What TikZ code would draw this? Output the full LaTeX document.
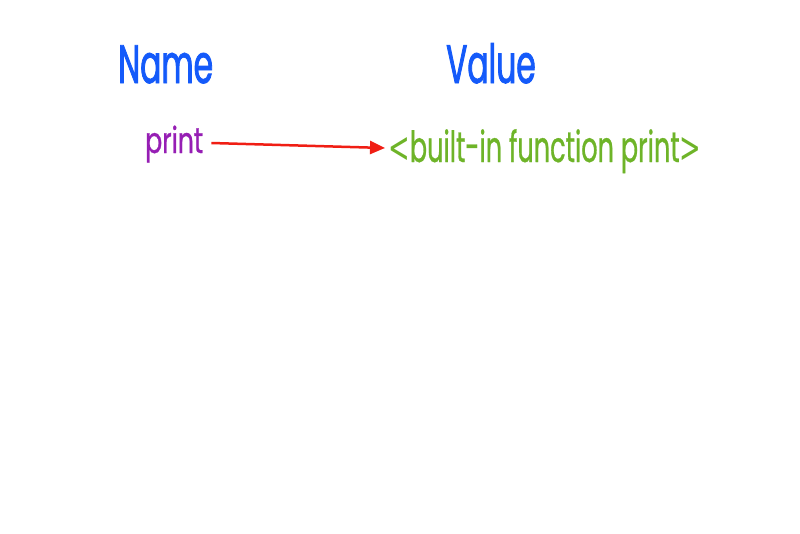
\documentclass[tikz,border=0pt]{standalone}
\usepackage{fontspec}
\usetikzlibrary{arrows.meta}
\newfontfamily\headfont[FakeStretch=0.58,FakeBold=1.5]{Poppins}
\newfontfamily\namefont[FakeStretch=0.7,FakeBold=0.8]{Poppins}
\newfontfamily\valfont[FakeStretch=0.595,FakeBold=0.6]{Poppins}
\newfontfamily\anglefont[FakeStretch=0.6]{DejaVu Sans}
\newcommand{\opang}{{\anglefont<}}
\newcommand{\clang}{{\anglefont>}}
\definecolor{hblue}{RGB}{20,90,250}
\definecolor{hpurple}{RGB}{150,30,180}
\definecolor{hgreen}{RGB}{110,180,40}
\definecolor{hred}{RGB}{240,30,20}
\tikzset{
  header/.style={font=\headfont\fontsize{54}{54}\selectfont, text=hblue, inner sep=0pt, anchor=base west},
  namelabel/.style={font=\namefont\fontsize{36}{36}\selectfont, text=hpurple, inner sep=0pt, anchor=base west},
  valuelabel/.style={font=\valfont\fontsize{43}{43}\selectfont, text=hgreen, inner sep=0pt, anchor=base west},
  link/.style={draw=hred, line width=2.5pt, -{Triangle[length=15pt,width=13pt]}}
}
\begin{document}
\begin{tikzpicture}[x=1pt,y=1pt]
\useasboundingbox[fill=white] (0,0) rectangle (800,-533);
\node[header] (name) at (118,-83) {Name};
\node[header] (value) at (446,-83) {Value};
\node[namelabel] (print) at (145,-153) {print};
\node[valuelabel] (builtin) at (388,-162) {\opang built-in function print\clang};
\draw[link] ([xshift=8pt,yshift=10pt]print.base east) -- ([xshift=-3pt,yshift=14pt]builtin.base west);
\end{tikzpicture}
\end{document}
